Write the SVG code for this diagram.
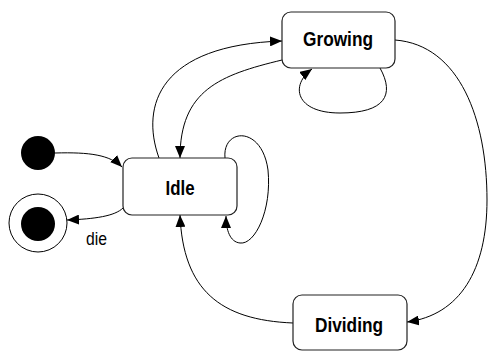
<svg xmlns="http://www.w3.org/2000/svg" width="488" height="351" viewBox="0 0 488 351">
<style>
.box{fill:#fff;stroke:#222;stroke-width:1.2}
.lbl{font-family:"Liberation Sans",Arial,sans-serif;font-weight:bold;font-size:20px;fill:#000;text-anchor:middle}
.edge{fill:none;stroke:#000;stroke-width:1;marker-end:url(#ah)}
.txt{font-family:"Liberation Sans",Arial,sans-serif;font-size:19px;fill:#000}
</style>
<defs>
<marker id="ah" viewBox="0 0 12 10" refX="12" refY="5" markerWidth="12" markerHeight="10" markerUnits="userSpaceOnUse" orient="auto">
<path d="M0,0 L12,5 L0,10 z" fill="#000"/>
</marker>
</defs>
<g id="connectors">
<path class="edge" d="M55,153 C90,152 110,155 122,167"/>
<path class="edge" d="M123,208 C115,216 95,219 67,220"/>
<path class="edge" d="M159,158 C140,105 160,45 282,41"/>
<path class="edge" d="M282,60 C220,75 180,90 180,158"/>
<path class="edge" d="M380,68 C395,95 385,113 340,113 C295,113 290,85 312,69"/>
<path class="edge" d="M225,158 C222,128 262,125 268,170 C272,210 255,245 240,243 C230,242 226,230 226,216"/>
<path class="edge" d="M395,40 C460,45 487,120 487,200 C487,270 460,315 407,322"/>
<path class="edge" d="M293,323 C220,320 183,290 180,215"/>
<text class="txt" x="86" y="245" textLength="21" lengthAdjust="spacingAndGlyphs">die</text>
</g>
<g id="initial"><circle cx="38" cy="153" r="17" fill="#000"/></g>
<g id="final"><circle cx="38" cy="223" r="29" fill="#fff" stroke="#000" stroke-width="1"/><circle cx="38" cy="224" r="17" fill="#000"/></g>
<g id="idle"><rect class="box" x="123" y="158" width="114" height="57" rx="9"/><text class="lbl" x="180" y="195" textLength="29" lengthAdjust="spacingAndGlyphs">Idle</text></g>
<g id="growing"><rect class="box" x="282" y="12" width="113" height="56" rx="9"/><text class="lbl" x="338" y="46" textLength="70" lengthAdjust="spacingAndGlyphs">Growing</text></g>
<g id="dividing"><rect class="box" x="293" y="295" width="114" height="55" rx="9"/><text class="lbl" x="349" y="332" textLength="68" lengthAdjust="spacingAndGlyphs">Dividing</text></g>
</svg>
